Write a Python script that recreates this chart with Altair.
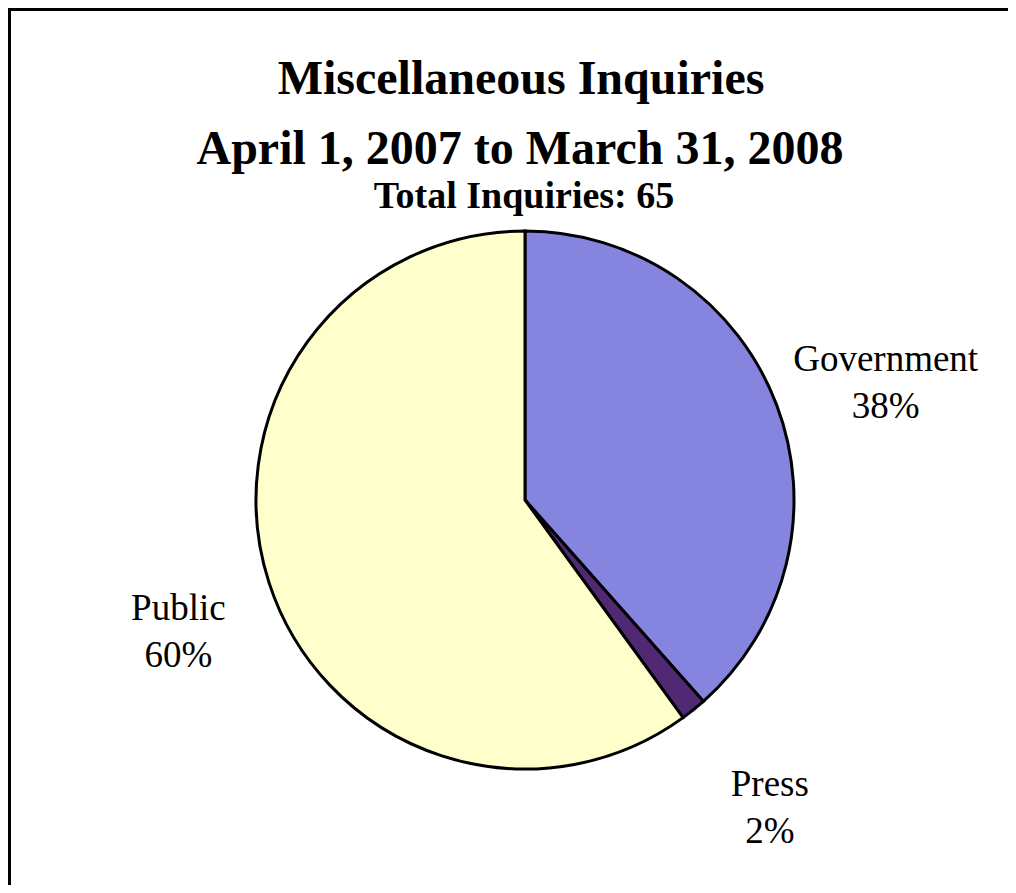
import altair as alt
import pandas as pd

# ---- data ----
categories = ["Government", "Press", "Public"]
counts = [25, 1, 39]
colors = ["#8585e0", "#512874", "#FFFFCC"]
title_line1 = "Miscellaneous Inquiries"
title_line2 = "April 1, 2007 to March 31, 2008"
subtitle = "Total Inquiries: 65"

total = sum(counts)
pcts = [f"{round(c * 100 / total)}%" for c in counts]
df = pd.DataFrame({
    "category": categories,
    "count": counts,
    "pct": pcts,
    "order": list(range(len(categories))),
})

# ---- layout ----
W, H = 1000, 877
CX, CY = 517, 492
R = 269
LR = 375
FONT = "Liberation Serif"
LBL_SIZE = 37

base = alt.Chart(df).encode(
    theta=alt.Theta("count:Q", stack=True),
    order=alt.Order("order:Q"),
    detail=alt.Detail("category:N"),
)

pie = base.mark_arc(outerRadius=R, stroke="black", strokeWidth=3).encode(
    color=alt.Color("category:N", scale=alt.Scale(domain=categories, range=colors), legend=None),
    x=alt.value(CX),
    y=alt.value(CY),
)

name_lbl = base.mark_text(
    radius=LR, dx=10, dy=4, baseline="alphabetic", align="center",
    font=FONT, fontSize=LBL_SIZE, color="black",
).encode(text="category:N", x=alt.value(CX), y=alt.value(CY))

pct_lbl = base.mark_text(
    radius=LR, dx=10, dy=51, baseline="alphabetic", align="center",
    font=FONT, fontSize=LBL_SIZE, color="black",
).encode(text="pct:N", x=alt.value(CX), y=alt.value(CY))


def title_text(txt, y, size, x=512):
    return alt.Chart(pd.DataFrame({"t": [txt]})).mark_text(
        font=FONT, fontSize=size, fontWeight="bold", baseline="alphabetic",
        align="center", color="black",
    ).encode(text="t:N", x=alt.value(x), y=alt.value(y))


t1 = title_text(title_line1, 86, 48, 513)
t2 = title_text(title_line2, 156, 48, 512)
t3 = title_text(subtitle, 200, 38, 516)

frame = alt.Chart(pd.DataFrame({"a": [0]}))
border_top = frame.mark_rule(color="black", strokeWidth=3).encode(
    x=alt.value(0), x2=alt.value(W), y=alt.value(1.5)
)
border_left = frame.mark_rule(color="black", strokeWidth=3).encode(
    x=alt.value(1.5), y=alt.value(0), y2=alt.value(H)
)

chart = alt.layer(border_top, border_left, pie, name_lbl, pct_lbl, t1, t2, t3).properties(
    width=W, height=H,
    autosize=alt.AutoSizeParams(type="none"),
    padding=0,
).configure_view(stroke=None)

chart.save("out.html", embed_options={"renderer": "svg", "actions": False})
